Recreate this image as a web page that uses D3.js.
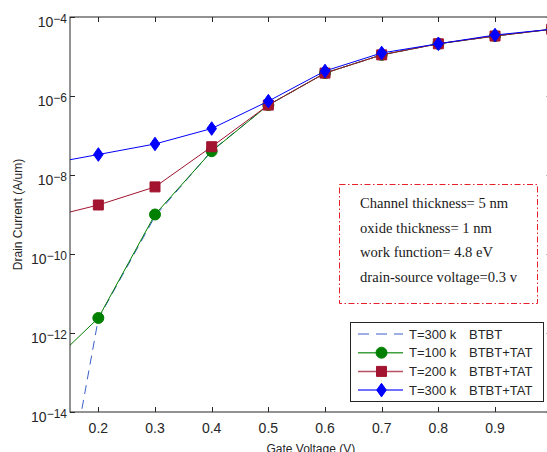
<!DOCTYPE html>
<html>
<head>
<meta charset="utf-8">
<script src="https://cdn.jsdelivr.net/npm/d3@7"></script>
<style>
  body { margin: 0; background: #fff; }
  svg { display: block; }
</style>
</head>
<body>
<svg id="chart" width="547" height="452" font-family="'Liberation Sans', Arial, sans-serif"></svg>
<script>
// gate voltage (V)
var volts = [0.1, 0.2, 0.3, 0.4, 0.5, 0.6, 0.7, 0.8, 0.9, 1.0];
// drain current (A/um)
var btbt300 = [3e-20, 2.3e-12, 9e-10, 4.1e-8, 5.9e-7, 3.8e-6, 1.1e-5, 2.1e-5, 3.3e-5, 4.9e-5];
var tat100 = [1.0e-13, 2.4e-12, 1.0e-9, 4.0e-8, 5.9e-7, 3.8e-6, 1.1e-5, 2.1e-5, 3.3e-5, 4.9e-5];
var tat200 = [7.7e-10, 1.74e-9, 5.0e-9, 5.2e-8, 5.9e-7, 3.8e-6, 1.1e-5, 2.1e-5, 3.3e-5, 4.9e-5];
var tat300 = [1.8e-8, 3.3e-8, 6.1e-8, 1.5e-7, 7.4e-7, 4.3e-6, 1.23e-5, 2.1e-5, 3.5e-5, 4.9e-5];

var xTicks = [0.2, 0.3, 0.4, 0.5, 0.6, 0.7, 0.8, 0.9];
var yTicks = [1e-14, 1e-12, 1e-10, 1e-8, 1e-6, 1e-4];
var notes = ["Channel thickness= 5 nm", "oxide thickness= 1 nm",
             "work function= 4.8 eV", "drain-source voltage=0.3 v"];

var series = [
  {temp: "T=300 k", kind: "BTBT", values: btbt300, color: "#3b5fc9", dash: "9,6", marker: null},
  {temp: "T=100 k", kind: "BTBT+TAT", values: tat100, color: "#008000", dash: null, marker: "circle"},
  {temp: "T=200 k", kind: "BTBT+TAT", values: tat200, color: "#a2142f", dash: null, marker: "square"},
  {temp: "T=300 k", kind: "BTBT+TAT", values: tat300, color: "#0000ff", dash: null, marker: "diamond"}
];

var svg = d3.select("#chart");
var mLeft = 70, mRight = 551.7, mTop = 17, mBottom = 412;

var x = d3.scaleLinear().domain([0.15, 1.0]).range([mLeft, mRight]);
var y = d3.scaleLog().domain([1e-14, 1e-4]).range([mBottom, mTop]);

svg.append("defs").append("clipPath").attr("id", "plotClip")
  .append("rect")
  .attr("x", mLeft).attr("y", mTop)
  .attr("width", mRight - mLeft).attr("height", mBottom - mTop);

function markerPath(type) {
  if (type === "circle") return d3.symbol().type(d3.symbolCircle).size(95)();
  if (type === "square") return d3.symbol().type(d3.symbolSquare).size(100)();
  return "M0,-6.8L4.8,0L0,6.8L-4.8,0Z";
}

// curves
var plot = svg.append("g").attr("clip-path", "url(#plotClip)");
var line = d3.line().x(function(d, i) { return x(volts[i]); }).y(function(d) { return y(d); });

series.forEach(function(s) {
  plot.append("path")
    .attr("d", line(s.values))
    .attr("fill", "none")
    .attr("stroke", s.color)
    .attr("stroke-width", 1)
    .attr("stroke-dasharray", s.dash);
  if (s.marker) {
    plot.selectAll(null)
      .data(s.values).enter()
      .append("path")
      .attr("d", markerPath(s.marker))
      .attr("transform", function(d, i) { return "translate(" + x(volts[i]) + "," + y(d) + ")"; })
      .attr("fill", s.color)
      .attr("stroke", s.color);
  }
});

// axes box with inward ticks
var axisColor = "#262626";
var tl = 5;
var ax = svg.append("g").attr("stroke", axisColor).attr("stroke-width", 1);
ax.append("rect")
  .attr("x", mLeft).attr("y", mTop)
  .attr("width", mRight - mLeft).attr("height", mBottom - mTop)
  .attr("fill", "none");

xTicks.forEach(function(t) {
  var px = Math.round(x(t)) + 0.5;
  ax.append("line").attr("x1", px).attr("x2", px).attr("y1", mBottom).attr("y2", mBottom - tl);
  ax.append("line").attr("x1", px).attr("x2", px).attr("y1", mTop).attr("y2", mTop + tl);
  svg.append("text")
    .attr("x", x(t)).attr("y", 433)
    .attr("text-anchor", "middle")
    .attr("font-size", 14)
    .attr("fill", axisColor)
    .text(t.toFixed(1));
});

yTicks.forEach(function(t) {
  var py = Math.round(y(t)) + 0.5;
  ax.append("line").attr("x1", mLeft).attr("x2", mLeft + tl).attr("y1", py).attr("y2", py);
  ax.append("line").attr("x1", mRight).attr("x2", mRight - tl).attr("y1", py).attr("y2", py);
  var lab = svg.append("text")
    .attr("x", mLeft - 3).attr("y", y(t) + 10)
    .attr("text-anchor", "end")
    .attr("font-size", 14)
    .attr("fill", axisColor);
  lab.append("tspan").text("10");
  lab.append("tspan").attr("dy", -4.5).attr("font-size", 12)
    .text(String(Math.round(Math.log10(t))).replace("-", "\u2212"));
});

svg.append("text")
  .attr("x", x(0.575)).attr("y", 452.5)
  .attr("text-anchor", "middle")
  .attr("font-size", 12)
  .attr("fill", axisColor)
  .text("Gate Voltage (V)");

svg.append("text")
  .attr("transform", "translate(22," + ((mTop + mBottom) / 2) + ") rotate(-90)")
  .attr("text-anchor", "middle")
  .attr("font-size", 12)
  .attr("fill", axisColor)
  .text("Drain Current (A/um)");

// annotation box
var note = svg.append("g");
note.append("rect")
  .attr("x", 339.5).attr("y", 184.5)
  .attr("width", 198).attr("height", 119)
  .attr("fill", "#fff")
  .attr("stroke", "#e8202a")
  .attr("stroke-width", 1)
  .attr("stroke-dasharray", "6,2.5,1.5,2.5");
note.selectAll("text")
  .data(notes).enter()
  .append("text")
  .attr("x", 360)
  .attr("y", function(d, i) { return 208 + i * 24.5; })
  .attr("font-family", "'Liberation Serif', 'Times New Roman', serif")
  .attr("font-size", 14.6)
  .attr("fill", "#1a1a1a")
  .text(function(d) { return d; });

// legend
var lg = svg.append("g");
lg.append("rect")
  .attr("x", 350.5).attr("y", 322.5)
  .attr("width", 193).attr("height", 79)
  .attr("fill", "#fff")
  .attr("stroke", axisColor)
  .attr("stroke-width", 1);

series.forEach(function(s, i) {
  var ry = 334 + i * 18.7;
  lg.append("line")
    .attr("x1", 358).attr("x2", 403)
    .attr("y1", ry).attr("y2", ry)
    .attr("stroke", s.color)
    .attr("stroke-width", s.marker ? 1.5 : 1)
    .attr("stroke-opacity", s.marker ? 0.75 : 1)
    .attr("stroke-dasharray", s.dash ? "11,7" : null);
  if (s.marker) {
    lg.append("path")
      .attr("d", markerPath(s.marker))
      .attr("transform", "translate(381.5," + ry + ")")
      .attr("fill", s.color)
      .attr("stroke", s.color);
  }
  lg.append("text")
    .attr("x", 409).attr("y", ry + 4.5)
    .attr("font-size", 13)
    .attr("fill", axisColor)
    .text(s.temp);
  lg.append("text")
    .attr("x", 469).attr("y", ry + 4.5)
    .attr("font-size", 13)
    .attr("fill", axisColor)
    .text(s.kind);
});
</script>
</body>
</html>
